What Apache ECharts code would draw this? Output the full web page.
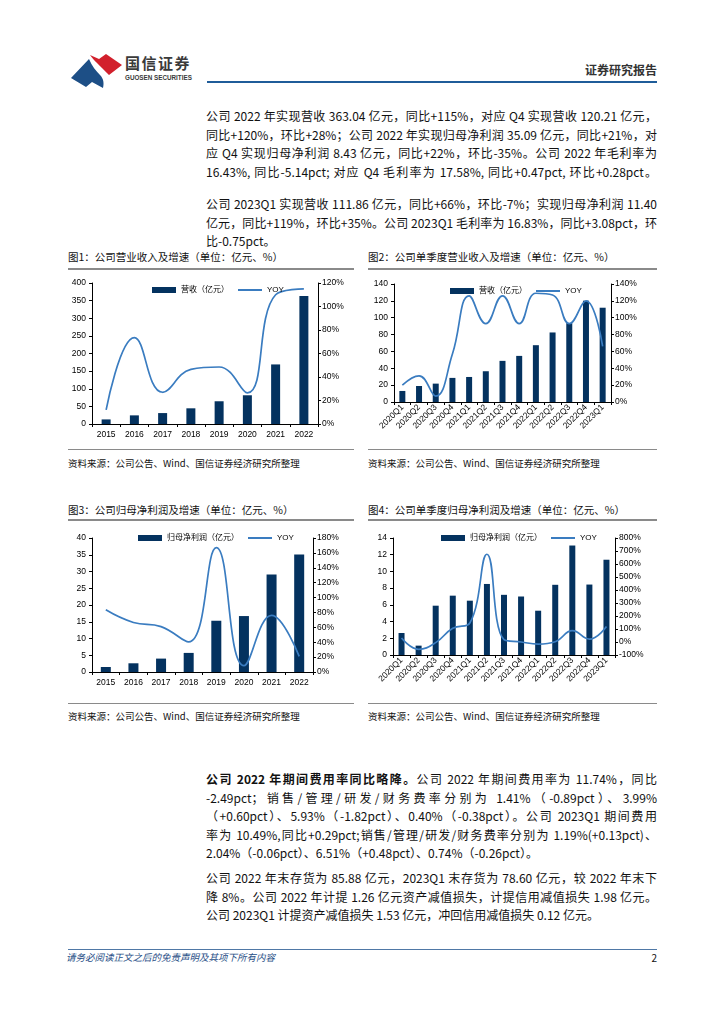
<!DOCTYPE html>
<html>
<head>
<meta charset="utf-8">
<script src="https://cdn.jsdelivr.net/npm/echarts@6/dist/echarts.min.js"></script>
<style>
  html, body { margin:0; padding:0; background:#fff; }
  #page { position:relative; width:724px; height:1024px; overflow:hidden; font-family:"Noto Sans CJK SC","Noto Sans",sans-serif; color:#111; }
  .abs { position:absolute; }
  .para { position:absolute; left:206px; width:451px; font-size:12px; line-height:18.5px; }
  .para div { text-align:justify; text-align-last:justify; white-space:nowrap; }
  .para div.last { text-align-last:left; }
  .ftitle { position:absolute; font-size:10.5px; line-height:14px; color:#111; white-space:nowrap; }
  .uline { position:absolute; height:2px; background:#8a8a8a; }
  .sline { position:absolute; height:1px; background:#8a8a8a; }
  .src { position:absolute; font-size:9.5px; line-height:12px; color:#111; white-space:nowrap; }
  .chart { position:absolute; }
</style>
</head>
<body>
<div id="page">
  <!-- header -->
  <svg class="abs" style="left:0;top:0" width="210" height="95">
    <path d="M71 78 L89 59 C92 66 96 71 100 75 C104 79 104 84 103 88 L92 82 L86 87 Z" fill="#1d4f86"/>
    <path d="M90 55 L99 59 L106 54 L122 65 L109 75 C104 70 100 66 97 63 C94 60 92 58 90 55 Z" fill="#d2202c"/>
  </svg>
  <div class="abs" style="left:125px;top:54px;font-size:15px;line-height:18px;font-weight:bold;color:#3a3a3a;letter-spacing:1.5px;white-space:nowrap;">国信证券</div>
  <div class="abs" style="left:125px;top:74px;font-size:6.3px;line-height:8px;font-weight:bold;color:#3a3a3a;white-space:nowrap;font-family:'Liberation Sans',sans-serif;">GUOSEN SECURITIES</div>
  <div class="abs" style="right:67px;top:62px;font-size:12px;line-height:16px;font-weight:bold;color:#333;white-space:nowrap;">证券研究报告</div>
  <div class="abs" style="left:207px;top:81px;width:450px;height:2px;background:#1f5c99;"></div>

  <!-- paragraph 1 -->
  <div class="para" style="top:107px;">
    <div>公司 2022 年实现营收 363.04 亿元，同比+115%，对应 Q4 实现营收 120.21 亿元，</div>
    <div>同比+120%，环比+28%；公司 2022 年实现归母净利润 35.09 亿元，同比+21%，对</div>
    <div>应 Q4 实现归母净利润 8.43 亿元，同比+22%，环比-35%。公司 2022 年毛利率为</div>
    <div>16.43%, 同比-5.14pct; 对应 Q4 毛利率为 17.58%, 同比+0.47pct, 环比+0.28pct。</div>
  </div>
  <div class="para" style="top:195px;">
    <div>公司 2023Q1 实现营收 111.86 亿元，同比+66%，环比-7%；实现归母净利润 11.40</div>
    <div>亿元，同比+119%，环比+35%。公司 2023Q1 毛利率为 16.83%，同比+3.08pct，环</div>
    <div class="last">比-0.75pct。</div>
  </div>

  <!-- figure titles row 1 -->
  <div class="ftitle" style="left:68px;top:250px;">图1：公司营业收入及增速（单位：亿元、%）</div>
  <div class="uline" style="left:68px;top:268px;width:286px;"></div>
  <div class="ftitle" style="left:368px;top:250px;">图2：公司单季度营业收入及增速（单位：亿元、%）</div>
  <div class="uline" style="left:368px;top:268px;width:289px;"></div>

  <div id="c1" class="chart" style="left:60px;top:275px;width:300px;height:172px;"></div>
  <div id="c2" class="chart" style="left:362px;top:275px;width:300px;height:172px;"></div>

  <div class="sline" style="left:68px;top:449px;width:286px;"></div>
  <div class="src" style="left:68px;top:457px;">资料来源：公司公告、Wind、国信证券经济研究所整理</div>
  <div class="sline" style="left:368px;top:449px;width:289px;"></div>
  <div class="src" style="left:368px;top:457px;">资料来源：公司公告、Wind、国信证券经济研究所整理</div>

  <!-- figure titles row 2 -->
  <div class="ftitle" style="left:68px;top:503px;">图3：公司归母净利润及增速（单位：亿元、%）</div>
  <div class="uline" style="left:68px;top:519px;width:286px;"></div>
  <div class="ftitle" style="left:368px;top:503px;">图4：公司单季度归母净利润及增速（单位：亿元、%）</div>
  <div class="uline" style="left:368px;top:519px;width:289px;"></div>

  <div id="c3" class="chart" style="left:60px;top:525px;width:300px;height:176px;"></div>
  <div id="c4" class="chart" style="left:362px;top:525px;width:300px;height:176px;"></div>

  <div class="sline" style="left:68px;top:703px;width:286px;"></div>
  <div class="src" style="left:68px;top:710px;">资料来源：公司公告、Wind、国信证券经济研究所整理</div>
  <div class="sline" style="left:368px;top:703px;width:289px;"></div>
  <div class="src" style="left:368px;top:710px;">资料来源：公司公告、Wind、国信证券经济研究所整理</div>

  <!-- paragraph 3 -->
  <div class="para" style="top:770px;">
    <div><b>公司 2022 年期间费用率同比略降。</b>公司 2022 年期间费用率为 11.74%，同比</div>
    <div>-2.49pct；销售/管理/研发/财务费率分别为 1.41%（-0.89pct）、3.99%</div>
    <div>（+0.60pct）、5.93%（-1.82pct）、0.40%（-0.38pct）。公司 2023Q1 期间费用</div>
    <div>率为 10.49%,同比+0.29pct;销售/管理/研发/财务费率分别为 1.19%(+0.13pct)、</div>
    <div class="last">2.04%（-0.06pct）、6.51%（+0.48pct）、0.74%（-0.26pct）。</div>
  </div>
  <div class="para" style="top:869px;">
    <div>公司 2022 年末存货为 85.88 亿元，2023Q1 末存货为 78.60 亿元，较 2022 年末下</div>
    <div>降 8%。公司 2022 年计提 1.26 亿元资产减值损失，计提信用减值损失 1.98 亿元。</div>
    <div class="last">公司 2023Q1 计提资产减值损失 1.53 亿元，冲回信用减值损失 0.12 亿元。</div>
  </div>

  <!-- footer -->
  <div class="abs" style="left:68px;top:949px;width:589px;height:1px;background:#4f78a6;"></div>
  <div class="abs" style="left:66px;top:951px;font-size:9.5px;line-height:13px;font-style:italic;color:#1f4e86;white-space:nowrap;">请务必阅读正文之后的免责声明及其项下所有内容</div>
  <div class="abs" style="right:67px;top:951px;font-size:10px;line-height:13px;color:#111;">2</div>
</div>

<script>
// ---------- data ----------
const years = ['2015', '2016', '2017', '2018', '2019', '2020', '2021', '2022'];
const quarters = ['2020Q1', '2020Q2', '2020Q3', '2020Q4', '2021Q1', '2021Q2', '2021Q3', '2021Q4', '2022Q1', '2022Q2', '2022Q3', '2022Q4', '2023Q1'];

const revenue = [13, 24.5, 31, 44.5, 64.5, 81.5, 169, 363.04];
const revenueYoy = [12, 73.5, 27, 46.5, 48.5, 26.5, 110, 115];

const qRevenue = [13.1, 19, 21.8, 28.6, 29.7, 36.5, 48.8, 54.7, 67.4, 82.5, 93.6, 120.21, 111.86];
const qRevenueYoy = [20, 31, 7, 57, 126, 93, 126, 93, 129, 127, 93, 120, 66];

const netProfit = [1.5, 2.6, 4.0, 5.7, 15.3, 16.7, 29.1, 35.09];
const netProfitYoy = [83.5, 66.5, 61, 40.5, 167, 8.5, 76, 21];

const qNetProfit = [2.63, 1.12, 5.9, 7.1, 6.5, 8.5, 7.2, 7.0, 5.3, 8.4, 13.1, 8.43, 11.40];
const qNetProfitYoy = [31, -56, -5, 106, 146, 675, 18, 0, -16, 2, 87, 22, 119];

const revName = '营收（亿元）';
const npName = '归母净利润（亿元）';
const yoyName = 'YOY';

// ---------- styles ----------
const BAR = '#04325f';
const LINE = '#3a7cc0';
const FONT = '"Liberation Sans", "Noto Sans CJK SC", sans-serif';

function build(id, o) {
  const chart = echarts.init(document.getElementById(id), null, { renderer: 'canvas' });
  const axisCommon = {
    axisLine: { show: true, lineStyle: { color: '#000', width: 1 } },
    axisTick: { show: true, length: 3, lineStyle: { color: '#000' } },
    splitLine: { show: false },
  };
  chart.setOption({
    animation: false,
    textStyle: { fontFamily: FONT },
    legend: {
      left: o.legendLeft, top: o.legendTop,
      itemWidth: 24, itemHeight: 6, itemGap: 8,
      textStyle: { fontSize: 8, color: '#000', fontFamily: FONT },
      data: [
        { name: o.barName, icon: 'rect' },
        { name: yoyName, itemStyle: { opacity: 0, borderWidth: 0 } }
      ]
    },
    grid: o.grid,
    xAxis: Object.assign({}, axisCommon, {
      type: 'category', data: o.cats, boundaryGap: true,
      axisTick: { show: true, length: 3, alignWithLabel: false, interval: 0, lineStyle: { color: '#000' } },
      axisLabel: { interval: 0, fontSize: 8.5, color: '#000', margin: o.rotate ? 4 : 6, rotate: o.rotate || 0 }
    }),
    yAxis: [
      Object.assign({}, axisCommon, {
        type: 'value', position: 'left', min: o.lMin, max: o.lMax, interval: o.lInt,
        axisLabel: { fontSize: 8.5, color: '#000', margin: 6 }
      }),
      Object.assign({}, axisCommon, {
        type: 'value', position: 'right', min: o.rMin, max: o.rMax, interval: o.rInt,
        axisLabel: { fontSize: 8.5, color: '#000', margin: 4, formatter: '{value}%' }
      })
    ],
    series: [
      { name: o.barName, type: 'bar', data: o.bars, barWidth: o.barW, itemStyle: { color: BAR } },
      { name: yoyName, type: 'line', yAxisIndex: 1, data: o.lines, smooth: 0.45, symbol: 'none',
        lineStyle: { color: LINE, width: 1.7 }, itemStyle: { color: LINE } }
    ]
  });
}

build('c1', {
  cats: years, bars: revenue, lines: revenueYoy, barName: revName,
  grid: { left: 32, top: 8, width: 226, height: 141 },
  lMin: 0, lMax: 400, lInt: 50, rMin: 0, rMax: 120, rInt: 20,
  barW: 9, legendLeft: 87, legendTop: 6
});
build('c2', {
  cats: quarters, bars: qRevenue, lines: qRevenueYoy, barName: revName,
  grid: { left: 32, top: 9, width: 217, height: 118 },
  lMin: 0, lMax: 140, lInt: 20, rMin: 0, rMax: 140, rInt: 20,
  barW: 6, rotate: 45, legendLeft: 83, legendTop: 7
});
build('c3', {
  cats: years, bars: netProfit, lines: netProfitYoy, barName: npName,
  grid: { left: 32, top: 13, width: 221, height: 134 },
  lMin: 0, lMax: 40, lInt: 5, rMin: 0, rMax: 180, rInt: 20,
  barW: 10, legendLeft: 73, legendTop: 4
});
build('c4', {
  cats: quarters, bars: qNetProfit, lines: qNetProfitYoy, barName: npName,
  grid: { left: 31, top: 13, width: 222, height: 117 },
  lMin: 0, lMax: 14, lInt: 2, rMin: -100, rMax: 800, rInt: 100,
  barW: 6, rotate: 45, legendLeft: 74, legendTop: 4
});
</script>
</body>
</html>
